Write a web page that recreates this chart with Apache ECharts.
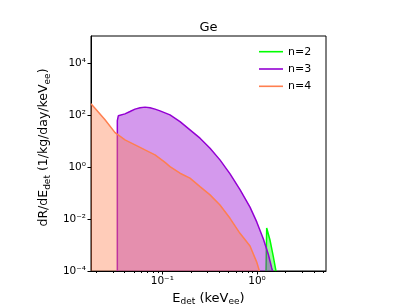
<!DOCTYPE html>
<html><head><meta charset="utf-8">
<script src="https://cdn.jsdelivr.net/npm/echarts@6/dist/echarts.min.js"></script>
<style>html,body{margin:0;padding:0;background:#fff}#c{width:407px;height:305px}</style>
</head><body><div id="c"></div>
<script>
// ---- data ----
const chartTitle = 'Ge';
const seriesNames = ['n=2', 'n=3', 'n=4'];
const seriesColors = ['#00ff00', '#9400d3', '#ff7f50'];

const n2X = [1.245, 1.265, 1.37, 1.486, 1.585];
const n2Y = [1e-4, 0.0045, 0.00155, 3.55e-4, 1e-4];

const n3X = [0.0335, 0.0335, 0.0343, 0.0357, 0.0403, 0.0456, 0.0515, 0.0582, 0.0657, 0.0742, 0.0838, 0.0946, 0.1205, 0.1538, 0.196, 0.25, 0.319, 0.406, 0.519, 0.661, 0.843, 0.993, 1.167, 1.318, 1.43, 1.46];
const n3Y = [1e-4, 60.4, 91.6, 100, 109, 134, 166, 186, 198, 186, 166, 142, 100, 55.2, 26.5, 12.7, 5.24, 1.86, 0.54, 0.135, 0.0285, 0.0077, 0.0017, 4.3e-4, 1.3e-4, 1e-4];

const n4X = [0.01766, 0.01945, 0.02483, 0.0317, 0.04036, 0.05152, 0.06561, 0.08375, 0.1069, 0.1205, 0.1538, 0.1959, 0.25, 0.3192, 0.4064, 0.5188, 0.6607, 0.8433, 0.9931, 1.059];
const n4Y = [265, 181, 64.3, 20.8, 10.9, 7.0, 4.5, 2.9, 1.5, 1.03, 0.57, 0.37, 0.175, 0.084, 0.0345, 0.0106, 0.0028, 9.1e-4, 2.2e-4, 1e-4];

const xMin = 0.01766, xMax = 5.35;
const yMin = 1e-4, yMax = 1.07e5;
const xMajorTicks = [0.1, 1];
const xMajorLabels = ['10\u207B\u00B9', '10\u2070'];
const xMinorTicks = [0.02, 0.03, 0.04, 0.05, 0.06, 0.07, 0.08, 0.09, 0.2, 0.3, 0.4, 0.5, 0.6, 0.7, 0.8, 0.9, 2, 3, 4, 5];
const yMajorTicks = [1e-4, 1e-2, 1, 1e2, 1e4];
const yMajorLabels = ['10\u207B\u2074', '10\u207B\u00B2', '10\u2070', '10\u00B2', '10\u2074'];

// ---- chart ----
const font = 'DejaVu Sans';
const pairs = (xs, ys) => xs.map((x, i) => [x, ys[i]]);
const labelFor = (ticks, labels) => v => {
  for (let i = 0; i < ticks.length; i++) if (Math.abs(Math.log10(v) - Math.log10(ticks[i])) < 1e-6) return labels[i];
  return '';
};
const subRich = {
  s: { fontSize: 9, fontFamily: font, color: '#000', verticalAlign: 'bottom', lineHeight: 8 }
};
const chart = echarts.init(document.getElementById('c'), null, { renderer: 'canvas' });
const datasets = [pairs(n2X, n2Y), pairs(n3X, n3Y), pairs(n4X, n4Y)];
const option = {
  animation: false,
  title: {
    text: chartTitle, left: 208.5, top: 21, padding: 0, textAlign: 'center',
    textStyle: { fontFamily: font, fontSize: 13, fontWeight: 'normal', color: '#000' }
  },
  legend: {
    orient: 'vertical', left: 259, top: 44.7, padding: 0, itemGap: 3.3,
    itemWidth: 24, itemHeight: 1.6, icon: 'rect',
    textStyle: { fontFamily: font, fontSize: 11, color: '#000', lineHeight: 14 },
    data: seriesNames
  },
  grid: { left: 91, top: 36, width: 235, height: 235, show: true, borderColor: '#000', borderWidth: 1, backgroundColor: 'transparent', outerBoundsMode: 'none', containLabel: false },
  xAxis: [{
    type: 'log', logBase: 10, min: xMin, max: xMax,
    axisLine: { show: true, lineStyle: { color: '#000', width: 1 } },
    axisTick: { show: true, inside: false, length: 3.5, customValues: xMajorTicks, lineStyle: { color: '#000' } },
    axisLabel: { customValues: xMajorTicks, formatter: labelFor(xMajorTicks, xMajorLabels), margin: 5, color: '#000', fontFamily: font, fontSize: 10.5 },
    splitLine: { show: false }, minorTick: { show: false },
    name: '{n|E}{s|det}{n| (keV}{s|ee}{n|)}', nameLocation: 'middle', nameGap: 19,
    nameTextStyle: { fontFamily: font, fontSize: 13, color: '#000', rich: Object.assign({ n: { fontSize: 13, fontFamily: font, color: '#000', lineHeight: 16 } }, subRich) }
  }, {
    type: 'log', logBase: 10, min: xMin, max: xMax, position: 'bottom',
    axisLine: { show: false }, axisLabel: { show: false }, splitLine: { show: false },
    axisTick: { show: true, inside: false, length: 2, customValues: xMinorTicks, lineStyle: { color: '#000' } }
  }],
  yAxis: [{
    type: 'log', logBase: 10, min: yMin, max: yMax,
    axisLine: { show: true, lineStyle: { color: '#000', width: 1 } },
    axisTick: { show: true, inside: false, length: 3.5, customValues: yMajorTicks, lineStyle: { color: '#000' } },
    axisLabel: { customValues: yMajorTicks, formatter: labelFor(yMajorTicks, yMajorLabels), margin: 5, color: '#000', fontFamily: font, fontSize: 10.5 },
    splitLine: { show: false }, minorTick: { show: false },
    name: '{n|dR/dE}{s|det}{n| (1/kg/day/keV}{s|ee}{n|)}', nameLocation: 'middle', nameGap: 26, nameRotate: 90,
    nameTextStyle: { fontFamily: font, fontSize: 12.5, color: '#000', padding: [0, 0, 0, 12], rich: Object.assign({ n: { fontSize: 12.5, fontFamily: font, color: '#000', lineHeight: 16 } }, subRich) }
  }],
  series: seriesNames.map((name, i) => ({
    name: name, type: 'line', xAxisIndex: 0, yAxisIndex: 0,
    data: datasets[i], symbol: 'none', showSymbol: false, smooth: false, clip: true,
    lineStyle: { color: seriesColors[i], width: 1.5 },
    itemStyle: { color: seriesColors[i] },
    areaStyle: { color: seriesColors[i], opacity: 0.4, origin: 'start' },
    z: 2 + i
  }))
};
chart.setOption(option);
</script></body></html>
